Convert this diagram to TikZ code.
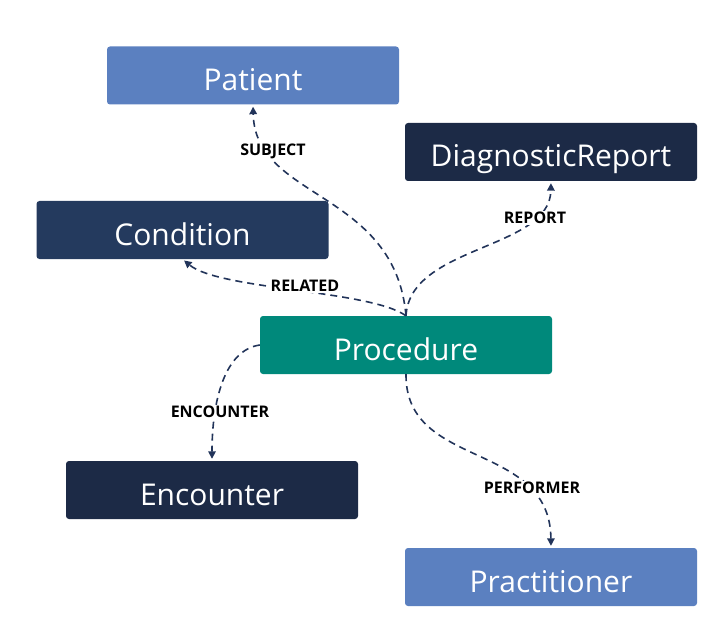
\documentclass[tikz,border=0pt]{standalone}
\usepackage{fontspec}
\setmainfont{Open Sans}
\usetikzlibrary{arrows.meta}
\definecolor{lblue}{HTML}{5B80C0}
\definecolor{navyA}{HTML}{243A5E}
\definecolor{navyB}{HTML}{1C2A46}
\definecolor{teal}{HTML}{00897B}
\definecolor{edgec}{HTML}{22345A}
\tikzset{
  ent/.style={rectangle, rounded corners=3pt, minimum width=292pt, minimum height=58pt,
    inner sep=0pt, text height=30pt, text depth=0pt, text=white, font=\fontsize{30}{36}\selectfont},
  rel/.style={draw=edgec, line width=1.6pt, dash pattern=on 7pt off 5pt,
    -{Triangle[width=7.5pt,length=7.5pt]}, shorten >=2pt},
  lbl/.style={fill=white, inner sep=1.5pt, font=\bfseries\fontsize{16}{19}\selectfont, text=black}
}
\begin{document}
\begin{tikzpicture}[x=1pt,y=-1pt]
\useasboundingbox (0,0) rectangle (720,631);
\node[ent, fill=lblue] (pat) at (253,75.5) {Patient};
\node[ent, fill=navyB] (dr) at (551,152) {DiagnosticReport};
\node[ent, fill=navyA] (cond) at (182.5,230) {Condition};
\node[ent, fill=teal] (proc) at (406,345) {Procedure};
\node[ent, fill=navyB] (enc) at (212,490) {Encounter};
\node[ent, fill=lblue] (prac) at (551,577) {Practitioner};

\draw[rel] (proc.north) .. controls (395,190) and (255,200) .. (pat.south);
\draw[rel] (proc.north) .. controls (370,290) and (220,290) .. (cond.south);
\draw[rel] (proc.north) .. controls (410,245) and (550,250) .. (dr.south);
\draw[rel] (proc.west) .. controls (225,350) and (212,400) .. (enc.north);
\draw[rel] (proc.south) .. controls (405,470) and (550,440) .. (prac.north);

\node[lbl] (lsub) at (273,151) {SUBJECT};
\node[lbl] (lrel) at (305,286) {RELATED};
\node[lbl] (lrep) at (535,218) {REPORT};
\node[lbl] (lenc) at (220,412) {ENCOUNTER};
\node[lbl] (lper) at (532,488) {PERFORMER};
\end{tikzpicture}
\end{document}
